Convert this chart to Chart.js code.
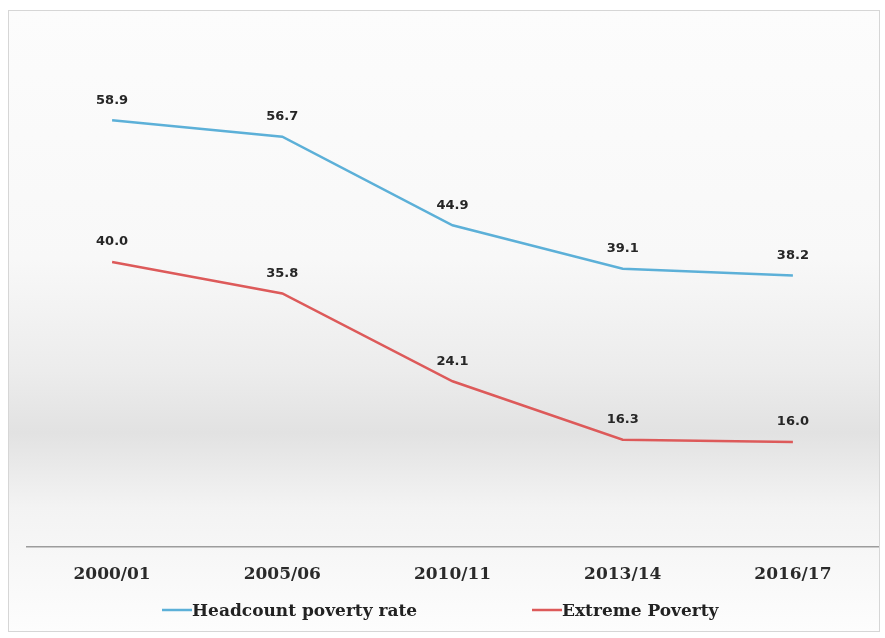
<!DOCTYPE html>
<html>
<head>
<meta charset="utf-8">
<script src="https://cdn.jsdelivr.net/npm/chart.js@4.4.1/dist/chart.umd.min.js"></script>
<style>
  html, body { margin: 0; padding: 0; background: #ffffff; }
  #wrap { width: 885px; height: 638px; position: relative; }
</style>
</head>
<body>
<div id="wrap"><canvas id="poverty-chart" width="885" height="638"></canvas></div>
<script>
// Chart data
const years = ['2000/01', '2005/06', '2010/11', '2013/14', '2016/17'];
const headcountRate = [58.9, 56.7, 44.9, 39.1, 38.2];
const extremePoverty = [40.0, 35.8, 24.1, 16.3, 16.0];
const seriesNames = ['Headcount poverty rate', 'Extreme Poverty'];

const blue = '#5cb0d8';
const red = '#dd5a5a';

// Scanned-page look: frame plus soft grey band
const backgroundPlugin = {
    id: 'pageBackground',
    beforeDraw(chart) {
        const ctx = chart.ctx;
        ctx.save();
        const grad = ctx.createLinearGradient(0, 10, 0, 632);
        grad.addColorStop(0, '#fcfcfc');
        grad.addColorStop(0.4, '#f8f8f8');
        grad.addColorStop(0.58, '#ececec');
        grad.addColorStop(0.68, '#e2e2e2');
        grad.addColorStop(0.8, '#f3f3f3');
        grad.addColorStop(1, '#fdfdfd');
        ctx.fillStyle = grad;
        ctx.fillRect(8, 10, 872, 622);
        ctx.strokeStyle = '#d6d6d6';
        ctx.lineWidth = 1;
        ctx.strokeRect(8.5, 10.5, 871, 621);
        ctx.restore();
    }
};

// Value labels above each point
const valueLabelPlugin = {
    id: 'valueLabels',
    afterDatasetsDraw(chart) {
        const ctx = chart.ctx;
        ctx.save();
        ctx.font = 'bold 13px "DejaVu Sans"';
        ctx.fillStyle = '#262626';
        ctx.textAlign = 'center';
        ctx.textBaseline = 'middle';
        chart.data.datasets.forEach((ds, i) => {
            chart.getDatasetMeta(i).data.forEach((pt, j) => {
                ctx.fillText(ds.data[j].toFixed(1), pt.x, pt.y - 20);
            });
        });
        ctx.restore();
    }
};

// Legend drawn under the axis labels, line touching the text
const legendPlugin = {
    id: 'lineLegend',
    afterDraw(chart) {
        const ctx = chart.ctx;
        const starts = [162, 532];
        const y = 612;
        ctx.save();
        ctx.font = 'bold 17px "DejaVu Serif"';
        ctx.fillStyle = '#222222';
        ctx.textBaseline = 'middle';
        ctx.textAlign = 'left';
        chart.data.datasets.forEach((ds, i) => {
            const x = starts[i];
            ctx.strokeStyle = ds.borderColor;
            ctx.lineWidth = 2.5;
            ctx.beginPath();
            ctx.moveTo(x, y - 2);
            ctx.lineTo(x + 30, y - 2);
            ctx.stroke();
            ctx.fillText(ds.label, x + 30, y);
        });
        ctx.restore();
    }
};

const ctx = document.getElementById('poverty-chart').getContext('2d');
const povertyChart = new Chart(ctx, {
    type: 'line',
    data: {
        labels: years,
        datasets: [{
            label: seriesNames[0],
            data: headcountRate,
            borderColor: blue,
            backgroundColor: blue,
            borderWidth: 2.5,
            pointRadius: 0,
            tension: 0
        }, {
            label: seriesNames[1],
            data: extremePoverty,
            borderColor: red,
            backgroundColor: red,
            borderWidth: 2.5,
            pointRadius: 0,
            tension: 0
        }]
    },
    options: {
        responsive: false,
        animation: false,
        layout: {
            padding: { top: 37, left: 27, right: 7, bottom: 0 }
        },
        plugins: {
            legend: { display: false },
            tooltip: { enabled: false }
        },
        scales: {
            x: {
                offset: true,
                grid: { display: false, drawTicks: false },
                border: { display: true, color: '#9c9c9c', width: 1.5 },
                ticks: {
                    padding: 17,
                    color: '#2a2a2a',
                    font: { family: '"DejaVu Serif"', size: 17, weight: 'bold' }
                },
                afterFit(scale) {
                    scale.height = 91;
                }
            },
            y: {
                display: false,
                min: 2,
                max: 70
            }
        }
    },
    plugins: [backgroundPlugin, valueLabelPlugin, legendPlugin]
});
</script>
</body>
</html>
